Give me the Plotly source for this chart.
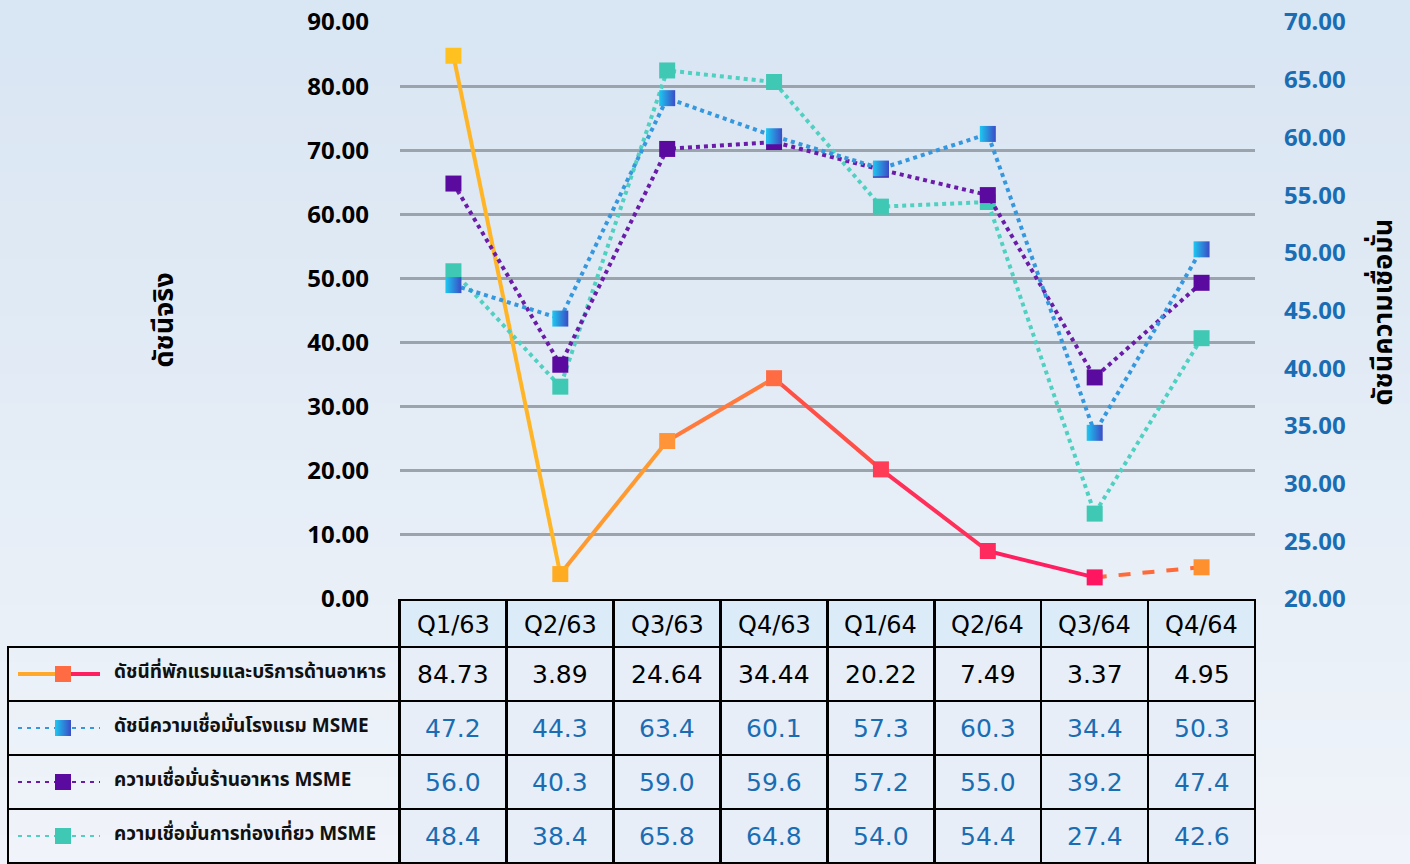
import plotly.graph_objects as go

categories = ["Q1/63", "Q2/63", "Q3/63", "Q4/63", "Q1/64", "Q2/64", "Q3/64", "Q4/64"]
index_values = [84.73, 3.89, 24.64, 34.44, 20.22, 7.49, 3.37, 4.95]
hotel_msme = [47.2, 44.3, 63.4, 60.1, 57.3, 60.3, 34.4, 50.3]
restaurant_msme = [56.0, 40.3, 59.0, 59.6, 57.2, 55.0, 39.2, 47.4]
tourism_msme = [48.4, 38.4, 65.8, 64.8, 54.0, 54.4, 27.4, 42.6]

series_names = [
    "ดัชนีที่พักแรมและบริการด้านอาหาร",
    "ดัชนีความเชื่อมั่นโรงแรม MSME",
    "ความเชื่อมั่นร้านอาหาร MSME",
    "ความเชื่อมั่นการท่องเที่ยว MSME",
]
left_title = "ดัชนีจริง"
right_title = "ดัชนีความเชื่อมั่น"

W, H = 1410, 864
PX0, PX1, PY0, PY1 = 400, 1255, 22, 599   # plot area in pixels
THAI = "Noto Sans Thai, Noto Sans, DejaVu Sans, sans-serif"
NUMF = "Noto Sans, DejaVu Sans, sans-serif"


def px(x):
    return x / W


def py(y):
    return 1 - y / H


seg_colors = ["#ffb526", "#ff9a30", "#ff7a3c", "#ff5048", "#ff2f5a", "#ff1e60", "#ff6a3a"]
mk_colors = ["#ffc11f", "#ffac22", "#ff9438", "#ff6c44", "#ff3c56", "#ff2a5e", "#ff1560", "#ff9030"]

HOTEL_LINE, HOTEL_MK, HOTEL_MK2 = "#3597dd", "#1ec8f0", "#3a4cc6"
REST_LINE, REST_MK = "#6a1ca8", "#5a0a9e"
TOUR_LINE, TOUR_MK = "#4fd0c0", "#3fc8b4"
BLUE_TXT = "#1a6db3"

fig = go.Figure()

# background gradient bands
top_c = (217, 230, 243)
bot_c = (240, 244, 250)
nb = 30
for i in range(nb):
    t = i / (nb - 1)
    c = tuple(int(top_c[k] + (bot_c[k] - top_c[k]) * t) for k in range(3))
    fig.add_shape(type="rect", xref="paper", yref="paper", x0=0, x1=1,
                  y0=1 - (i + 1) / nb - 0.002, y1=1 - i / nb,
                  fillcolor="rgb(%d,%d,%d)" % c, line_width=0, layer="below")

# index series: segments with gradient colours
for i in range(len(categories) - 1):
    fig.add_trace(go.Scatter(
        x=categories[i:i + 2], y=index_values[i:i + 2], mode="lines",
        line=dict(color=seg_colors[i], width=4, dash="dash" if i == len(categories) - 2 else "solid"),
        showlegend=False, hoverinfo="skip", yaxis="y"))
fig.add_trace(go.Scatter(
    x=categories, y=index_values, mode="markers",
    marker=dict(symbol="square", size=16, color=mk_colors, line_width=0),
    showlegend=False, yaxis="y", name=series_names[0]))

# MSME series on right axis
fig.add_trace(go.Scatter(
    x=categories, y=tourism_msme, mode="lines+markers", yaxis="y2", name=series_names[3],
    line=dict(color=TOUR_LINE, width=4, dash="dot"),
    marker=dict(symbol="square", size=16, color=TOUR_MK), showlegend=False))
fig.add_trace(go.Scatter(
    x=categories, y=restaurant_msme, mode="lines+markers", yaxis="y2", name=series_names[2],
    line=dict(color=REST_LINE, width=4, dash="dot"),
    marker=dict(symbol="square", size=16, color=REST_MK), showlegend=False))
fig.add_trace(go.Scatter(
    x=categories, y=hotel_msme, mode="lines+markers", yaxis="y2", name=series_names[1],
    line=dict(color=HOTEL_LINE, width=4, dash="dot"),
    marker=dict(symbol="square", size=16, color=HOTEL_MK,
                gradient=dict(type="horizontal", color=HOTEL_MK2)), showlegend=False))

# table grid (cell texts are placed as annotations so they sit centred vertically)
header_h, row_h = 47, 54
tab_top = PY1 + 1
table_h = header_h + 4 * row_h
n_rows = 4
fig.add_trace(go.Table(
    domain=dict(x=[px(8), px(PX1)], y=[0, py(tab_top)]),
    columnwidth=[392] + [107] * 8,
    header=dict(values=[""] * 9, height=header_h,
                fill=dict(color=["rgba(0,0,0,0)"] + ["#dcebf8"] * 8),
                line=dict(color=["rgba(0,0,0,0)"] + ["black"] * 8, width=2.5)),
    cells=dict(values=[[""] * n_rows] * 9, height=row_h,
               fill=dict(color=["rgba(0,0,0,0)"] + ["#e8eef8"] * 8),
               line=dict(color="black", width=2.5))))

rows = [
    (["%.2f" % v for v in index_values], "black"),
    (["%.1f" % v for v in hotel_msme], BLUE_TXT),
    (["%.1f" % v for v in restaurant_msme], BLUE_TXT),
    (["%.1f" % v for v in tourism_msme], BLUE_TXT),
]
for j, cat in enumerate(categories):
    fig.add_annotation(text=cat, xref="x", yref="paper", x=cat, y=py(tab_top + header_h / 2 + 1),
                       showarrow=False, xanchor="center", yanchor="middle",
                       font=dict(family="DejaVu Sans", size=24, color="black"))
    for r, (vals, col) in enumerate(rows):
        fig.add_annotation(text=vals[j], xref="x", yref="paper", x=cat,
                           y=py(tab_top + header_h + (r + 0.5) * row_h),
                           showarrow=False, xanchor="center", yanchor="middle",
                           font=dict(family="DejaVu Sans", size=25, color=col))

# legend glyphs inside the first table column (overlay axes in pixel units)
lx0, lx1, lxm = 10, 92, 55
leg_specs = [
    (series_names[0], ["#ffa82a", "#ff1e60"], mk_colors[3], "solid", 4),
    (series_names[1], [HOTEL_LINE, HOTEL_LINE], HOTEL_MK, "4px,5px", 2),
    (series_names[2], [REST_LINE, REST_LINE], REST_MK, "4px,5px", 2),
    (series_names[3], [TOUR_LINE, TOUR_LINE], TOUR_MK, "4px,5px", 2),
]
for r, (nm, lc, mc, dash, lw) in enumerate(leg_specs):
    yc = header_h + (r + 0.5) * row_h
    fig.add_trace(go.Scatter(x=[lx0, lxm], y=[yc, yc], mode="lines", xaxis="x3", yaxis="y3",
                             line=dict(color=lc[0], width=lw, dash=dash), showlegend=False, hoverinfo="skip"))
    fig.add_trace(go.Scatter(x=[lxm, lx1], y=[yc, yc], mode="lines", xaxis="x3", yaxis="y3",
                             line=dict(color=lc[1], width=lw, dash=dash), showlegend=False, hoverinfo="skip"))
    mk = dict(symbol="square", size=16, color=mc)
    if r == 1:
        mk["gradient"] = dict(type="horizontal", color=HOTEL_MK2)
    fig.add_trace(go.Scatter(x=[lxm], y=[yc], mode="markers", xaxis="x3", yaxis="y3",
                             marker=mk, showlegend=False, hoverinfo="skip"))
    fig.add_annotation(text="<b>%s</b>" % nm, xref="paper", yref="paper",
                       x=px(112), y=py(tab_top + yc - 2),
                       xanchor="left", yanchor="middle", showarrow=False,
                       font=dict(family=THAI, size=19, color="#111"))

# axis titles
fig.add_annotation(text="<b>%s</b>" % left_title, xref="paper", yref="paper",
                   x=px(141), y=py(320), textangle=-90, showarrow=False,
                   font=dict(family=THAI, size=27, color="black"))
fig.add_annotation(text="<b>%s</b>" % right_title, xref="paper", yref="paper",
                   x=px(1405), y=py(312), textangle=-90, showarrow=False,
                   font=dict(family=THAI, size=27, color="black"))

fig.update_layout(
    width=W, height=H, margin=dict(l=0, r=0, t=0, b=0, pad=0),
    paper_bgcolor="#e6eef7", plot_bgcolor="rgba(0,0,0,0)",
    xaxis=dict(type="category", categoryorder="array", categoryarray=categories,
               domain=[px(PX0), px(PX1)], anchor="y",
               range=[-0.5, len(categories) - 0.5], showgrid=False, zeroline=False,
               showticklabels=False, showline=False, ticks="", automargin=False),
    yaxis=dict(domain=[py(PY1), py(PY0)], anchor="x",
               range=[0, 90], dtick=10, tickformat=".2f", showgrid=True,
               gridcolor="#9ba4ad", gridwidth=2.5, zeroline=False, showline=False,
               ticklabelstandoff=30, automargin=False,
               tickfont=dict(family=NUMF, size=24, color="black", weight="bold")),
    yaxis2=dict(range=[20, 70], dtick=5, tickformat=".2f", overlaying="y", side="right",
                anchor="x", showgrid=False, zeroline=False, showline=False,
                ticklabelstandoff=28, automargin=False,
                tickfont=dict(family=NUMF, size=24, color=BLUE_TXT, weight="bold")),
    xaxis3=dict(domain=[px(8), px(400)], range=[0, 392], visible=False, anchor="y3"),
    yaxis3=dict(domain=[py(tab_top + table_h), py(tab_top)],
                range=[table_h, 0], visible=False, anchor="x3"),
)

fig.write_html("out.html", config={"displayModeBar": False},
               post_script="document.body.style.margin='0';document.body.style.overflow='hidden';")
